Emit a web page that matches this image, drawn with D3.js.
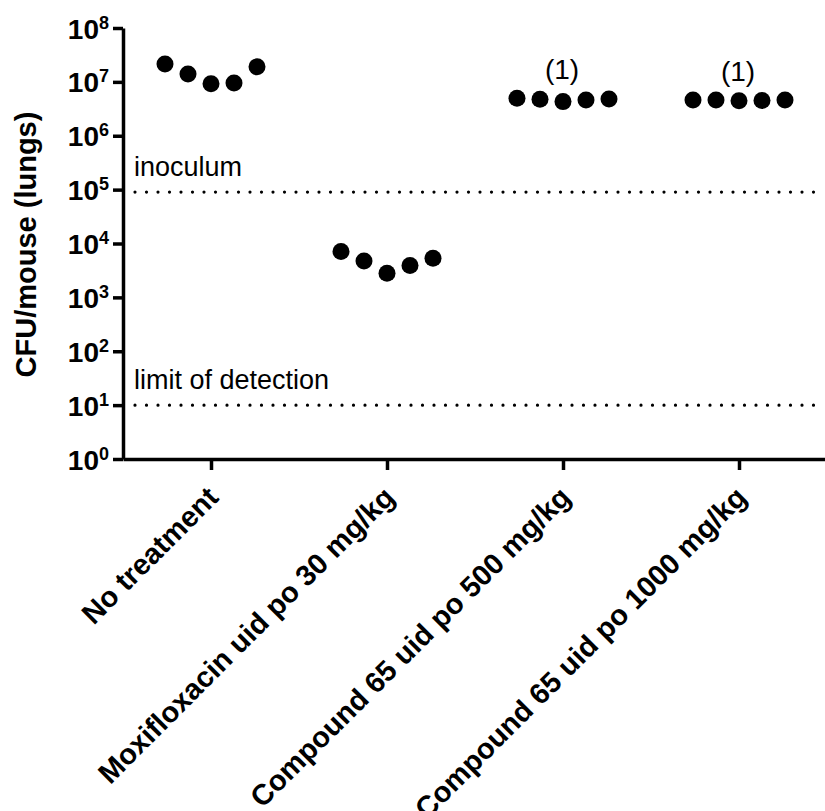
<!DOCTYPE html>
<html><head><meta charset="utf-8">
<script src="https://cdn.jsdelivr.net/npm/d3@7"></script>
<style>
body{margin:0;background:#fff}
text{font-family:"Liberation Sans",Arial,Helvetica,sans-serif;fill:#000}
</style>
</head><body>
<svg id="chart" width="825" height="811"></svg>
<script>
// ---- data ----
const categories = ["No treatment", "Moxifloxacin uid po 30 mg/kg", "Compound 65 uid po 500 mg/kg", "Compound 65 uid po 1000 mg/kg"];
const noTreatment = [2.15e7, 1.4e7, 9.2e6, 9.5e6, 1.9e7];
const moxifloxacin30 = [7.1e3, 4.75e3, 2.8e3, 3.9e3, 5.3e3];
const compound65_500 = [4.95e6, 4.75e6, 4.3e6, 4.6e6, 4.8e6];
const compound65_1000 = [4.6e6, 4.6e6, 4.45e6, 4.5e6, 4.6e6];
const groupValues = [noTreatment, moxifloxacin30, compound65_500, compound65_1000];
const annotations = ["", "", "(1)", "(1)"];
const yTickExponents = [0, 1, 2, 3, 4, 5, 6, 7, 8];
const refLabels = ["inoculum", "limit of detection"];
const refValues = [9e4, 10];
const yTitle = "CFU/mouse (lungs)";

// ---- layout ----
const W = 825, H = 811;
const mLeft = 123, mRight = 827, mTop = 28, mBottom = 459;
const svg = d3.select("#chart");

const y = d3.scaleLog().domain([1, 1e8]).range([mBottom, mTop]);
const x = d3.scalePoint().domain(categories).range([mLeft, mRight]).padding(0.5);
const jitter = d3.scalePoint().domain(d3.range(5)).range([-46, 46]);

// y axis
const yAxis = svg.append("g").attr("transform", `translate(${mLeft},0)`)
  .call(d3.axisLeft(y).tickValues(yTickExponents.map(e => Math.pow(10, e)))
    .tickSize(10).tickSizeOuter(0).tickFormat(() => ""));
yAxis.select(".domain").attr("stroke", "#000").attr("stroke-width", 3.5);
yAxis.selectAll(".tick line").attr("stroke", "#000").attr("stroke-width", 3.5);
yAxis.selectAll(".tick text").remove();
yAxis.selectAll(".tick").append("text")
  .attr("x", -14).attr("y", 10)
  .attr("text-anchor", "end")
  .style("font-weight", "bold").style("font-size", "28px")
  .each(function(d) {
    const t = d3.select(this);
    t.append("tspan").text("10");
    t.append("tspan").attr("dy", -10).style("font-size", "18px").text(Math.round(Math.log10(d)));
  });

// x axis
const xAxis = svg.append("g").attr("transform", `translate(0,${mBottom})`)
  .call(d3.axisBottom(x).tickSize(11).tickSizeOuter(0).tickFormat(() => ""));
xAxis.select(".domain").attr("stroke", "#000").attr("stroke-width", 3.5);
xAxis.selectAll(".tick line").attr("stroke", "#000").attr("stroke-width", 3.5);
xAxis.selectAll(".tick text").remove();
svg.append("g").selectAll("text").data(categories).join("text")
  .attr("transform", d => `translate(${x(d) + 2},${mBottom + 33}) rotate(-45)`)
  .attr("text-anchor", "end").attr("dy", "0.35em")
  .style("font-weight", "bold").style("font-size", "29px")
  .text(d => d);

// y title
svg.append("text")
  .attr("transform", `translate(36,${(mTop + mBottom) / 2 + 1}) rotate(-90)`)
  .attr("text-anchor", "middle")
  .style("font-weight", "bold").style("font-size", "29px")
  .text(yTitle);

// reference lines
const refs = svg.append("g");
refValues.forEach((v, i) => {
  refs.append("line")
    .attr("x1", mLeft + 12).attr("x2", W).attr("y1", y(v)).attr("y2", y(v))
    .attr("stroke", "#000").attr("stroke-width", 3.2)
    .attr("stroke-dasharray", "0 11.5").attr("stroke-linecap", "round");
  refs.append("text")
    .attr("x", mLeft + 11).attr("y", y(v) - 16)
    .style("font-size", "27px")
    .text(refLabels[i]);
});

// points
const pts = svg.append("g");
groupValues.forEach((vals, gi) => {
  pts.selectAll(null).data(vals).join("circle")
    .attr("cx", (d, j) => x(categories[gi]) + jitter(j))
    .attr("cy", d => y(d))
    .attr("r", 8.5)
    .attr("fill", "#000");
  if (annotations[gi]) {
    pts.append("text")
      .attr("x", x(categories[gi]) - 1)
      .attr("y", y(d3.max(vals)) - 19)
      .attr("text-anchor", "middle")
      .style("font-size", "28px")
      .text(annotations[gi]);
  }
});
</script>
</body></html>
